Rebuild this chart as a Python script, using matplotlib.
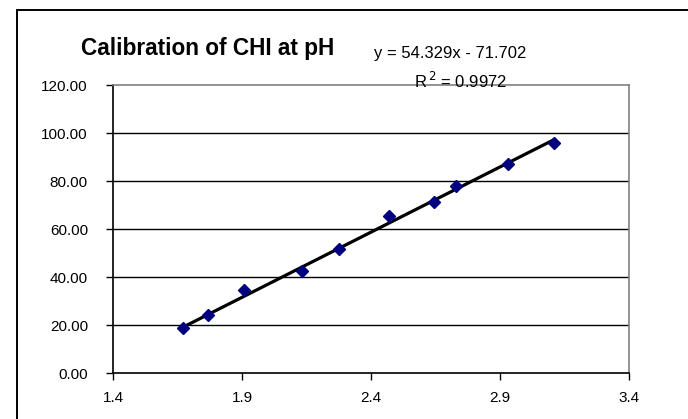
import numpy as np
import matplotlib.pyplot as plt
from matplotlib.patches import Rectangle

plt.rcParams['font.family'] = ['Liberation Sans', 'DejaVu Sans']

# absorbance readings vs pH
ph = [1.670, 1.767, 1.909, 2.134, 2.276, 2.471, 2.645, 2.729, 2.932, 3.110]
chi = [18.75, 24.0, 34.75, 42.4, 51.5, 65.5, 71.3, 77.8, 87.2, 96.0]

# linear trendline
slope = 54.329
intercept = -71.702
r2 = 0.9972

xticks = [1.4, 1.9, 2.4, 2.9, 3.4]
yticks = [0, 20, 40, 60, 80, 100, 120]

W, H = 688, 419
fig = plt.figure(figsize=(W / 100, H / 100), dpi=100)

# chart border (runs off the right and bottom)
fig.add_artist(Rectangle((17 / W, -0.1), 1.2, (H - 10) / H + 0.1,
                         transform=fig.transFigure, fill=False,
                         edgecolor='black', linewidth=1.4, clip_on=False))

ax = fig.add_axes([113 / W, (H - 373) / H, (629 - 113) / W, (373 - 85) / H])

ax.set_xlim(1.4, 3.4)
ax.set_ylim(0, 120)
ax.set_xticks(xticks)
ax.set_xticklabels([f'{t:.1f}' for t in xticks])
ax.set_yticks(yticks)
ax.set_yticklabels([f'{t:.2f}' for t in yticks])
ax.tick_params(direction='out', length=5, width=1, labelsize=11)
ax.tick_params(axis='y', pad=13)
ax.tick_params(axis='x', pad=8)

for y in yticks[1:-1]:
    ax.axhline(y, color='black', linewidth=1, zorder=1)

for side in ['top', 'right']:
    ax.spines[side].set_color('#808080')
    ax.spines[side].set_linewidth(1.2)
for side in ['left', 'bottom']:
    ax.spines[side].set_color('black')
    ax.spines[side].set_linewidth(1.2)

xl = np.array([min(ph), max(ph)])
ax.plot(xl, slope * xl + intercept, color='black', linewidth=2.3, zorder=2)
ax.plot(ph, chi, linestyle='none', marker='D', markersize=6,
        color='#000080', zorder=3)

fig.text(81 / W, 1 - 55 / H, 'Calibration of CHI at pH', fontsize=16.3,
         fontweight='bold', ha='left', va='baseline')
fig.text(450 / W, 1 - 58 / H, f'y = {slope}x - {abs(intercept)}',
         fontsize=12, ha='center', va='baseline')
fig.text(460 / W, 1 - 88 / H, f'R$^{{\\,2}}$ = {r2}',
         fontsize=12, ha='center', va='baseline')

fig.savefig('out.png', dpi=100)
